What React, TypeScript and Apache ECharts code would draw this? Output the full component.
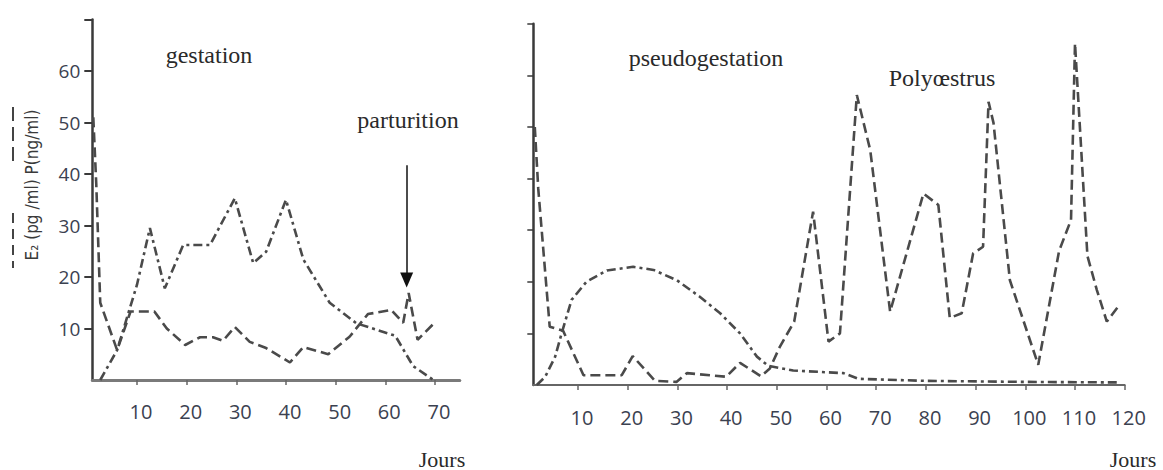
import React, { useEffect, useRef } from "react";
import * as echarts from "echarts";

// ---- data ----
const leftE2: [number, number][] = [
  [1.2, 51], [1.8, 38], [2.6, 15], [6, 5.8], [8.7, 13.3], [13.5, 13.3], [16, 10],
  [19.7, 6.8], [22.7, 8.3], [25.3, 8.3], [27.3, 7.6], [29.7, 10.3], [32.7, 7.4],
  [36, 6.2], [40.8, 3.4], [43.5, 6.4], [48.5, 5.0], [52.8, 8.4], [56.5, 12.8],
  [61.2, 13.6], [63.6, 11.1], [64.7, 16.9], [66.5, 7.8], [69.8, 11]
];
const leftP: [number, number][] = [
  [2.6, 0], [6, 5.8], [10, 18.5], [12.6, 29.5], [15.6, 17.8], [19.3, 26.2],
  [24.7, 26.2], [29.7, 35.3], [33.4, 22.7], [36, 24.9], [40, 35], [43.5, 23.4],
  [48.8, 15], [54.2, 11], [62, 8.6], [65.6, 2.7], [69.7, 0]
];
const rightE2: [number, number][] = [
  [1.3, 50], [2.0, 38], [4.3, 11.3], [7, 10.5], [11.1, 1.9], [18.8, 1.9], [21, 5.6],
  [25.5, 0.8], [29.8, 0.6], [31.9, 2.3], [39.8, 1.6], [42.6, 4.3], [46.8, 1.7],
  [48.6, 3.2], [50.6, 7.4], [53.5, 12.3], [57.3, 33.6], [60.4, 8.4], [62.7, 10],
  [66.1, 56.2], [68.8, 45.5], [72.8, 14.2], [79.5, 37.1], [82.5, 34.9], [84.8, 13],
  [87.2, 13.9], [89.5, 25.5], [91.5, 26.8], [92.6, 54.9], [93.6, 50.8], [96.9, 20.3],
  [102.6, 3.9], [106.8, 26], [109.2, 32], [110, 66.2], [112.5, 25], [114.4, 18.4],
  [116.4, 12.3], [118.6, 15.1]
];
const rightP: [number, number][] = [
  [1.7, 0], [3.4, 1.6], [5.4, 5.5], [6.7, 10], [8.7, 16.5], [11.7, 20], [15.8, 22.2],
  [21.1, 22.9], [25.2, 22.3], [29.9, 20.3], [34.5, 17.1], [38.6, 13.9], [42.6, 10],
  [46, 5.5], [48.3, 3.7], [53.3, 2.8], [63.4, 2.3], [66.4, 1.2], [80, 0.8], [100, 0.6],
  [118.4, 0.5]
];
const leftXTicks = [10, 20, 30, 40, 50, 60, 70];
const rightXTicks = [10, 20, 30, 40, 50, 60, 70, 80, 90, 100, 110, 120];
const leftYTicks = [10, 20, 30, 40, 50, 60, 70];
const leftYLabels = [10, 20, 30, 40, 50, 60];
const rightYTicks = [10, 20, 30, 40, 50, 60, 70];
const arrowLine = { day: 64.3, from: 41.7, to: 19.4 };

const LINE = "#4a4a4a";
const LABEL = "#3b4150";
const SERIF = "'Liberation Serif', 'DejaVu Serif', serif";
const SANS = "'Open Sans', 'Noto Sans', sans-serif";

export default function App() {
  const ref = useRef<HTMLDivElement>(null);
  useEffect(() => {
    if (!ref.current) return;
    const chart = echarts.init(ref.current, undefined, { renderer: "svg" });
    const xLabel = (vals: number[], margin: number) => ({
      customValues: vals,
      margin,
      fontSize: 20,
      fontFamily: SANS,
      color: LABEL,
      padding: [0, 0, 0, 8],
    });
    const title = (text: string, x: number, y: number, size: number) => ({
      type: "text", x, y,
      style: { text, font: `${size}px ${SERIF}`, fill: "#2a2a2a", align: "center", verticalAlign: "middle" },
    });
    const option: any = {
      animation: false,
      backgroundColor: "#ffffff",
      grid: [
        { left: 92.3, top: 19.5, width: 367.5, height: 360.5 },
        { left: 533.3, top: 23.8, width: 591.4, height: 361.2 },
      ],
      xAxis: [
        {
          gridIndex: 0, type: "value", min: 1, max: 75,
          axisLine: { onZero: false, lineStyle: { color: "#7a7a7a", width: 3 } },
          axisTick: { customValues: leftXTicks, length: 5, lineStyle: { color: "#666", width: 1.5 } },
          axisLabel: xLabel(leftXTicks, 21),
          splitLine: { show: false },
        },
        {
          gridIndex: 1, type: "value", min: 1, max: 120,
          axisLine: { onZero: false, lineStyle: { color: "#666", width: 2 } },
          axisTick: { customValues: rightXTicks, length: 5, lineStyle: { color: "#666", width: 1.5 } },
          axisLabel: xLabel(rightXTicks, 22),
          splitLine: { show: false },
        },
      ],
      yAxis: [
        {
          gridIndex: 0, type: "value", min: 0, max: 70,
          axisLine: { onZero: false, lineStyle: { color: "#3a3a3a", width: 2.5 } },
          axisTick: { customValues: leftYTicks, length: 8, lineStyle: { color: "#3a3a3a", width: 2 } },
          axisLabel: { customValues: leftYLabels, margin: 12, fontSize: 19, fontFamily: SANS, color: LABEL },
          splitLine: { show: false },
        },
        {
          gridIndex: 1, type: "value", min: 0, max: 70,
          axisLine: { onZero: false, lineStyle: { color: "#3a3a3a", width: 2.5 } },
          axisTick: { customValues: rightYTicks, length: 6, lineStyle: { color: "#3a3a3a", width: 1.5 } },
          axisLabel: { show: false },
          splitLine: { show: false },
        },
      ],
      series: [
        {
          name: "E2 gestation", type: "line", xAxisIndex: 0, yAxisIndex: 0, data: leftE2,
          symbol: "none", lineStyle: { color: LINE, width: 2.6, type: [10, 5] },
        },
        {
          name: "P gestation", type: "line", xAxisIndex: 0, yAxisIndex: 0, data: leftP,
          symbol: "none", lineStyle: { color: LINE, width: 2.6, type: [9, 4, 3, 4] },
          markLine: {
            silent: true, symbol: ["none", "triangle"], symbolSize: [13, 15],
            label: { show: false },
            lineStyle: { color: "#111", width: 1.5, type: "solid" },
            data: [[
              { coord: [arrowLine.day, arrowLine.from] },
              { coord: [arrowLine.day, arrowLine.to] },
            ]],
          },
        },
        {
          name: "E2 pseudo", type: "line", xAxisIndex: 1, yAxisIndex: 1, data: rightE2,
          symbol: "none", lineStyle: { color: LINE, width: 2.6, type: [10, 5] },
        },
        {
          name: "P pseudo", type: "line", xAxisIndex: 1, yAxisIndex: 1, data: rightP,
          symbol: "none", lineStyle: { color: LINE, width: 2.6, type: [9, 4, 3, 4] },
        },
      ],
      graphic: [
        title("gestation", 209, 55, 24),
        title("parturition", 408, 120, 24),
        title("pseudogestation", 706, 58, 24),
        title("Polyœstrus", 942, 78, 24),
        title("Jours", 442, 459, 22),
        title("Jours", 1133, 459, 22),
        { type: "text", x: 32, y: 185, rotation: Math.PI / 2, style: { text: "E₂ (pg /ml) P(ng/ml)", font: `17px 'DejaVu Sans Condensed', 'Noto Sans', sans-serif`, fill: "#3a3a3a", align: "center", verticalAlign: "middle" } },
        { type: "line", shape: { x1: 13, y1: 107, x2: 13, y2: 162 }, style: { stroke: "#444", lineWidth: 2, lineDash: [14, 6] } },
        { type: "line", shape: { x1: 13, y1: 213, x2: 13, y2: 268 }, style: { stroke: "#444", lineWidth: 2, lineDash: [10, 6] } },
      ],
    };
    chart.setOption(option);
    return () => chart.dispose();
  }, []);
  return (
    <div
      ref={ref}
      style={{ position: "fixed", left: 0, top: 0, width: 1163, height: 470, background: "#fff" }}
    />
  );
}
